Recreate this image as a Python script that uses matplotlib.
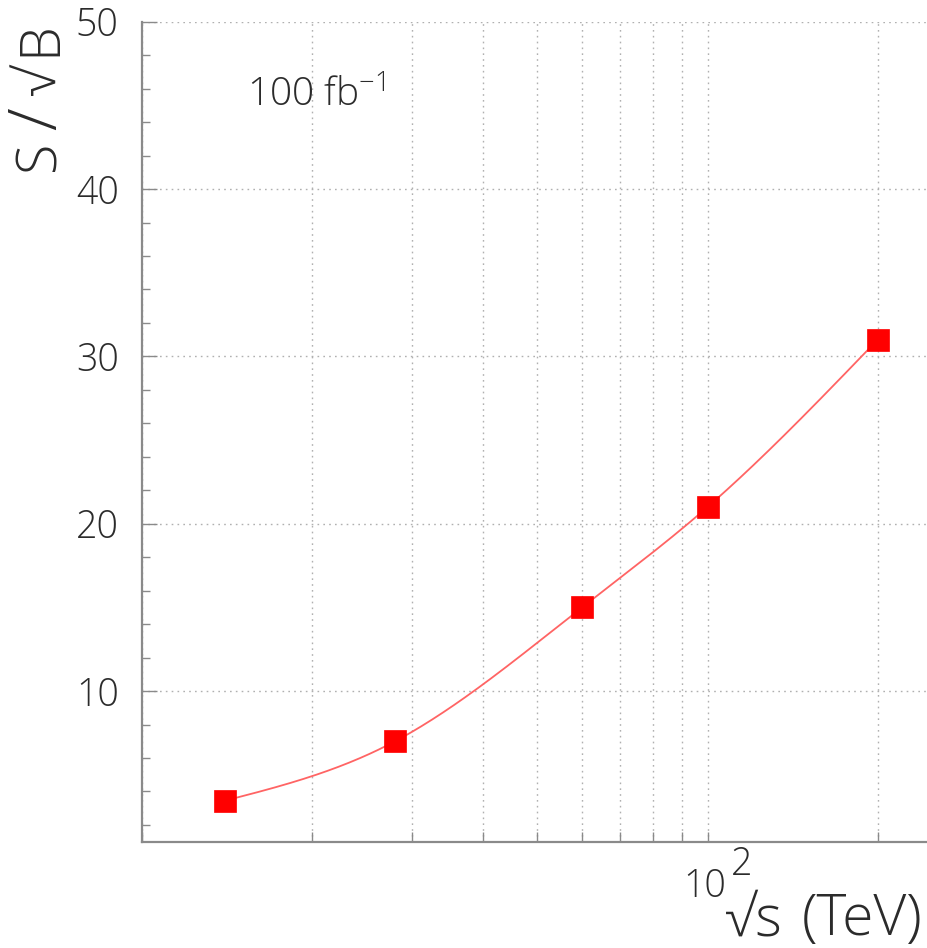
import numpy as np
import matplotlib
matplotlib.use("Agg")
import matplotlib.pyplot as plt
from matplotlib.ticker import LogLocator, MultipleLocator, NullFormatter, FixedLocator

plt.rcParams['font.family'] = ['Open Sans', 'Liberation Sans', 'DejaVu Sans']
plt.rcParams['font.weight'] = 'light'
plt.rcParams['mathtext.fontset'] = 'custom'
plt.rcParams['mathtext.rm'] = 'Open Sans:light'
plt.rcParams['mathtext.default'] = 'regular'

# Centre-of-mass energy (TeV) and significance for 100 fb^-1
energy = [14, 28, 60, 100, 200]
significance = [3.45, 7.0, 15.0, 21.0, 31.0]
lumi_label = "100 fb$^{-1}$"

TXT = '#2b2b2b'
AXC = '#8a8a8a'

W, H = 927, 948
fig = plt.figure(figsize=(W / 100, H / 100), dpi=100)
left, right, top, bottom = 142.3, 932.5, 21.7, 841.7
ax = fig.add_axes([left / W, 1 - bottom / H, (right - left) / W, (bottom - top) / H])

ax.set_xscale('log')
ax.set_xlim(10, 250)
ax.set_ylim(1, 50)


def natural_spline(u, y, n=300):
    """Smooth curve through the points (natural cubic spline in u)."""
    u = np.asarray(u, float)
    y = np.asarray(y, float)
    k = len(u)
    h = np.diff(u)
    A = np.zeros((k, k))
    b = np.zeros(k)
    A[0, 0] = A[-1, -1] = 1
    for i in range(1, k - 1):
        A[i, i - 1] = h[i - 1]
        A[i, i] = 2 * (h[i - 1] + h[i])
        A[i, i + 1] = h[i]
        b[i] = 6 * ((y[i + 1] - y[i]) / h[i] - (y[i] - y[i - 1]) / h[i - 1])
    M = np.linalg.solve(A, b)
    uu = np.linspace(u[0], u[-1], n)
    idx = np.clip(np.searchsorted(u, uu) - 1, 0, k - 2)
    t0 = u[idx]
    t1 = u[idx + 1]
    hh = t1 - t0
    a = (t1 - uu) / hh
    c = (uu - t0) / hh
    yy = (a * y[idx] + c * y[idx + 1]
          + ((a ** 3 - a) * M[idx] + (c ** 3 - c) * M[idx + 1]) * hh ** 2 / 6)
    return uu, yy


uu, yy = natural_spline(np.log10(energy), significance)
ax.plot(10 ** uu, yy, color='#ff6464', lw=1.3, zorder=3)
ax.plot(energy, significance, ls='none', marker='s', ms=15.5,
        mfc='#ff0000', mec='#ff0000', mew=0.5, zorder=4)

# Grid
ax.xaxis.set_major_locator(LogLocator(base=10, numticks=10))
ax.xaxis.set_minor_locator(LogLocator(base=10, subs=np.arange(2, 10), numticks=10))
ax.xaxis.set_major_formatter(NullFormatter())
ax.xaxis.set_minor_formatter(NullFormatter())
ax.yaxis.set_major_locator(MultipleLocator(10))
ax.yaxis.set_minor_locator(FixedLocator(np.arange(2, 50, 2)))
ax.grid(True, which='both', axis='x', color='#b0b0b0', lw=1.0, ls=(0, (1.2, 3)))
ax.grid(True, which='major', axis='y', color='#b0b0b0', lw=1.0, ls=(0, (1.2, 3)))
ax.set_axisbelow(True)

for s in ('top', 'right'):
    ax.spines[s].set_visible(False)
for s in ('left', 'bottom'):
    ax.spines[s].set_color(AXC)
    ax.spines[s].set_linewidth(1.6)

ax.tick_params(axis='x', which='both', direction='in', length=7, width=1.0,
               color=AXC, top=False)
ax.tick_params(axis='y', which='major', direction='in', length=11, width=1.0,
               color=AXC, right=False, labelsize=27, labelcolor=TXT, pad=17)
ax.tick_params(axis='y', which='minor', direction='in', length=6, width=1.0,
               color=AXC, right=False)
ax.set_yticks([10, 20, 30, 40, 50])
ax.set_yticklabels(['10', '20', '30', '40', '50'])

# Decade label on the energy axis
ax.annotate('10', xy=(100, 1), xycoords='data', xytext=(-2, -39.8),
            textcoords='offset points', ha='center', va='baseline',
            fontsize=27, color=TXT, annotation_clip=False)
ax.annotate('2', xy=(100, 1), xycoords='data', xytext=(17, -24),
            textcoords='offset points', ha='left', va='baseline',
            fontsize=27, color=TXT, annotation_clip=False)


def px(x, y):
    return x / W, 1 - y / H


# Energy axis title
title_kw = dict(fontsize=41, color=TXT, va='baseline')
fig.text(*px(725, 935), "\u221as", ha='left', **title_kw)
fig.text(*px(922, 935), "(TeV)", ha='right', **title_kw)

# Significance axis title (rotated)
rot_kw = dict(color=TXT, va='baseline', rotation=90, rotation_mode='anchor')
fig.text(*px(55, 171), "S", ha='left', fontsize=40, **rot_kw)
fig.text(*px(56, 119), "/", ha='center', fontsize=48, **rot_kw)
fig.text(*px(55, 80), "\u221a", ha='center', fontsize=40, **rot_kw)
fig.text(*px(55, 21), "B", ha='right', fontsize=40, **rot_kw)

fig.text(*px(247, 107), lumi_label, ha='left', va='baseline',
         fontsize=28, color=TXT)

fig.savefig('out.png', dpi=100)
